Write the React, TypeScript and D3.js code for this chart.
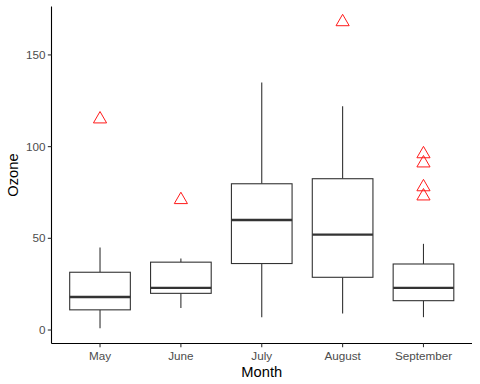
import React from "react";
import * as d3 from "d3";

const months = ["May", "June", "July", "August", "September"];
const lowerWhisker = [1, 12, 7, 9, 7];
const q1 = [11, 20, 36.25, 28.75, 16];
const medians = [18, 23, 60, 52, 23];
const q3 = [31.5, 37, 79.75, 82.5, 36];
const upperWhisker = [45, 39, 135, 122, 47];
const outliers: number[][] = [[115], [71], [], [168], [96, 91, 78, 73]];
const yTicks = [0, 50, 100, 150];

const W = 480, H = 384;
const left = 51.5, right = 472, top = 6.6, bottom = 343.5;
const font = "Liberation Sans, Arial, Helvetica, sans-serif";

export default function App() {
  const y = d3.scaleLinear().domain([1 - 8.35, 168 + 8.35]).range([bottom, top]);
  const x = d3.scaleBand().domain(months).range([left, right]).paddingOuter(0.1).paddingInner(0);
  const bw = x.bandwidth();
  const boxW = bw * 0.75;
  const tri = d3.symbol().type(d3.symbolTriangle).size(75);
  return (
    <svg width={W} height={H} style={{ position: "absolute", left: 0, top: 0, background: "#fff" }}>
      {months.map((m, i) => {
        const cx = x(m)! + bw / 2;
        return (
          <g key={m}>
            <line x1={cx} x2={cx} y1={y(upperWhisker[i])} y2={y(q3[i])} stroke="#333" strokeWidth={1.1} />
            <line x1={cx} x2={cx} y1={y(lowerWhisker[i])} y2={y(q1[i])} stroke="#333" strokeWidth={1.1} />
            <rect x={cx - boxW / 2} y={y(q3[i])} width={boxW} height={y(q1[i]) - y(q3[i])} fill="#fff" stroke="#333" strokeWidth={1.1} />
            <line x1={cx - boxW / 2} x2={cx + boxW / 2} y1={y(medians[i])} y2={y(medians[i])} stroke="#333" strokeWidth={2.3} />
            {outliers[i].map((o, j) => (
              <path key={j} d={tri()!} transform={`translate(${cx},${y(o)})`} fill="none" stroke="#FF1A1A" strokeWidth={1} />
            ))}
          </g>
        );
      })}
      <line x1={left} x2={left} y1={top} y2={bottom} stroke="#000" strokeWidth={1.1} />
      <line x1={left} x2={right} y1={bottom} y2={bottom} stroke="#000" strokeWidth={1.1} />
      {yTicks.map((t) => (
        <g key={t}>
          <line x1={left - 3.7} x2={left} y1={y(t)} y2={y(t)} stroke="#333" strokeWidth={1.1} />
          <text x={left - 6} y={y(t)} dy="0.35em" textAnchor="end" fontFamily={font} fontSize={11.7} fill="#4D4D4D">{t}</text>
        </g>
      ))}
      {months.map((m) => {
        const cx = x(m)! + bw / 2;
        return (
          <g key={m}>
            <line x1={cx} x2={cx} y1={bottom} y2={bottom + 3.7} stroke="#333" strokeWidth={1.1} />
            <text x={cx} y={bottom + 16} textAnchor="middle" fontFamily={font} fontSize={11.7} fill="#4D4D4D">{m}</text>
          </g>
        );
      })}
      <text x={(left + right) / 2} y={377} textAnchor="middle" fontFamily={font} fontSize={14.7} fill="#000">Month</text>
      <text transform={`translate(18,${(top + bottom) / 2}) rotate(-90)`} textAnchor="middle" fontFamily={font} fontSize={14.7} fill="#000">Ozone</text>
    </svg>
  );
}
